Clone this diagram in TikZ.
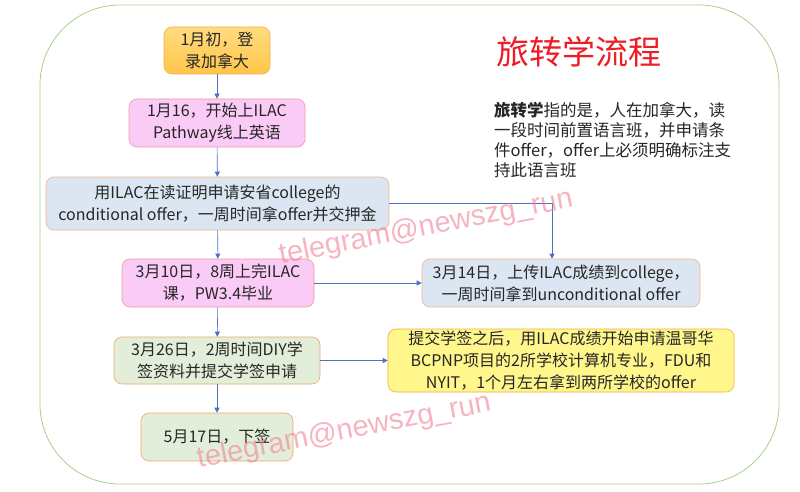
\documentclass[tikz,border=0pt]{standalone}
\usepackage{fontspec}
\setmainfont{Noto Sans CJK SC}
\newfontfamily\wmfont{Liberation Sans}
\usetikzlibrary{arrows.meta,positioning}
\definecolor{outerg}{HTML}{A9D18E}
\definecolor{arrowc}{HTML}{4A72C0}
\definecolor{pinkf}{HTML}{FBCBF7}
\definecolor{pinkd}{HTML}{F29A9A}
\definecolor{bluef}{HTML}{DCE6F3}
\definecolor{blued}{HTML}{F2B48C}
\definecolor{greenf}{HTML}{E3EEDA}
\definecolor{greend}{HTML}{F0A868}
\definecolor{yellowf}{HTML}{FFF68C}
\definecolor{yellowd}{HTML}{F0B040}
\definecolor{orangeT}{HTML}{FFDC80}
\definecolor{orangeB}{HTML}{FFC54A}
\definecolor{oranged}{HTML}{F5B041}
\definecolor{titlered}{HTML}{EE1C25}
\definecolor{wmpink}{HTML}{F07890}
\tikzset{
  box/.style={rounded corners=8pt, line width=0.6pt, align=center, inner sep=0pt,
    font=\fontsize{16}{22}\selectfont, text=black!85},
  obox/.style={box, draw=oranged, top color=orangeT, bottom color=orangeB},
  pbox/.style={box, draw=pinkd, fill=pinkf},
  bbox/.style={box, draw=blued, fill=bluef},
  gbox/.style={box, draw=greend, fill=greenf},
  ybox/.style={box, draw=yellowd, fill=yellowf},
  arr/.style={draw=arrowc, line width=0.6pt, -{Triangle[width=5pt,length=5pt]}},
  wm/.style={font=\wmfont\fontsize{29}{30}\selectfont, text=wmpink, text opacity=0.55, rotate=11}
}
\begin{document}
\begin{tikzpicture}[x=1pt,y=-1pt]
\useasboundingbox (0,0) rectangle (800,492);
\fill[white] (0,0) rectangle (800,492);
\draw[outerg, line width=0.8pt, rounded corners=80pt] (40,5) rectangle (779,484);

\node[obox, minimum width=106pt, minimum height=47pt] (n1) at (217,50.5) {1月初，登\\录加拿大};
\node[pbox, minimum width=176pt, minimum height=48pt] (n2) at (217,123) {1月16，开始上ILAC\\Pathway线上英语};
\node[bbox, minimum width=343pt, minimum height=53pt] (n3) at (217.5,203.5) {用ILAC在读证明申请安省college的\\conditional offer，一周时间拿offer并交押金};
\node[pbox, minimum width=192pt, minimum height=48pt] (n4) at (218,283) {3月10日，8周上完ILAC\\课，PW3.4毕业};
\node[gbox, minimum width=206pt, minimum height=47pt] (n5) at (217,360.5) {3月26日，2周时间DIY学\\签资料并提交学签申请};
\node[gbox, minimum width=152pt, minimum height=48pt] (n6) at (217,437) {5月17日，下签};
\node[bbox, minimum width=278pt, minimum height=48pt] (n7) at (561,283) {3月14日，上传ILAC成绩到college，\\一周时间拿到unconditional offer};
\node[ybox, minimum width=346pt, minimum height=63pt] (n8) at (561,360.5) {提交学签之后，用ILAC成绩开始申请温哥华\\BCPNP项目的2所学校计算机专业，FDU和\\NYIT，1个月左右拿到两所学校的offer};

\node[font=\fontsize{33}{36}\selectfont, text=titlered, inner sep=0pt] (title) at (579,52) {旅转学流程};
\node[anchor=north west, inner sep=0pt, align=left, font=\fontsize{16.5}{20}\selectfont, text=black!85] (desc) at (494,102)
 {\textbf{旅转学}指的是，人在加拿大，读\\一段时间前置语言班，并申请条\\件offer，offer上必须明确标注支\\持此语言班};

\draw[arr] (n1) -- (n2);
\draw[arr] (n2) -- (n3);
\draw[arr] (n3) -- (n4);
\draw[arr] (n4) -- (n5);
\draw[arr] (n5) -- (n6);
\draw[arr] (n3.east) -| ([xshift=-9pt]n7.north);
\draw[arr] (n4.east) -- (n7.west);
\draw[arr] (n5.east) -- (n8.west);

\node[wm] (wm1) at (426,228) {telegram@newszg\_run};
\node[wm] (wm2) at (344,432) {telegram@newszg\_run};
\end{tikzpicture}
\end{document}
